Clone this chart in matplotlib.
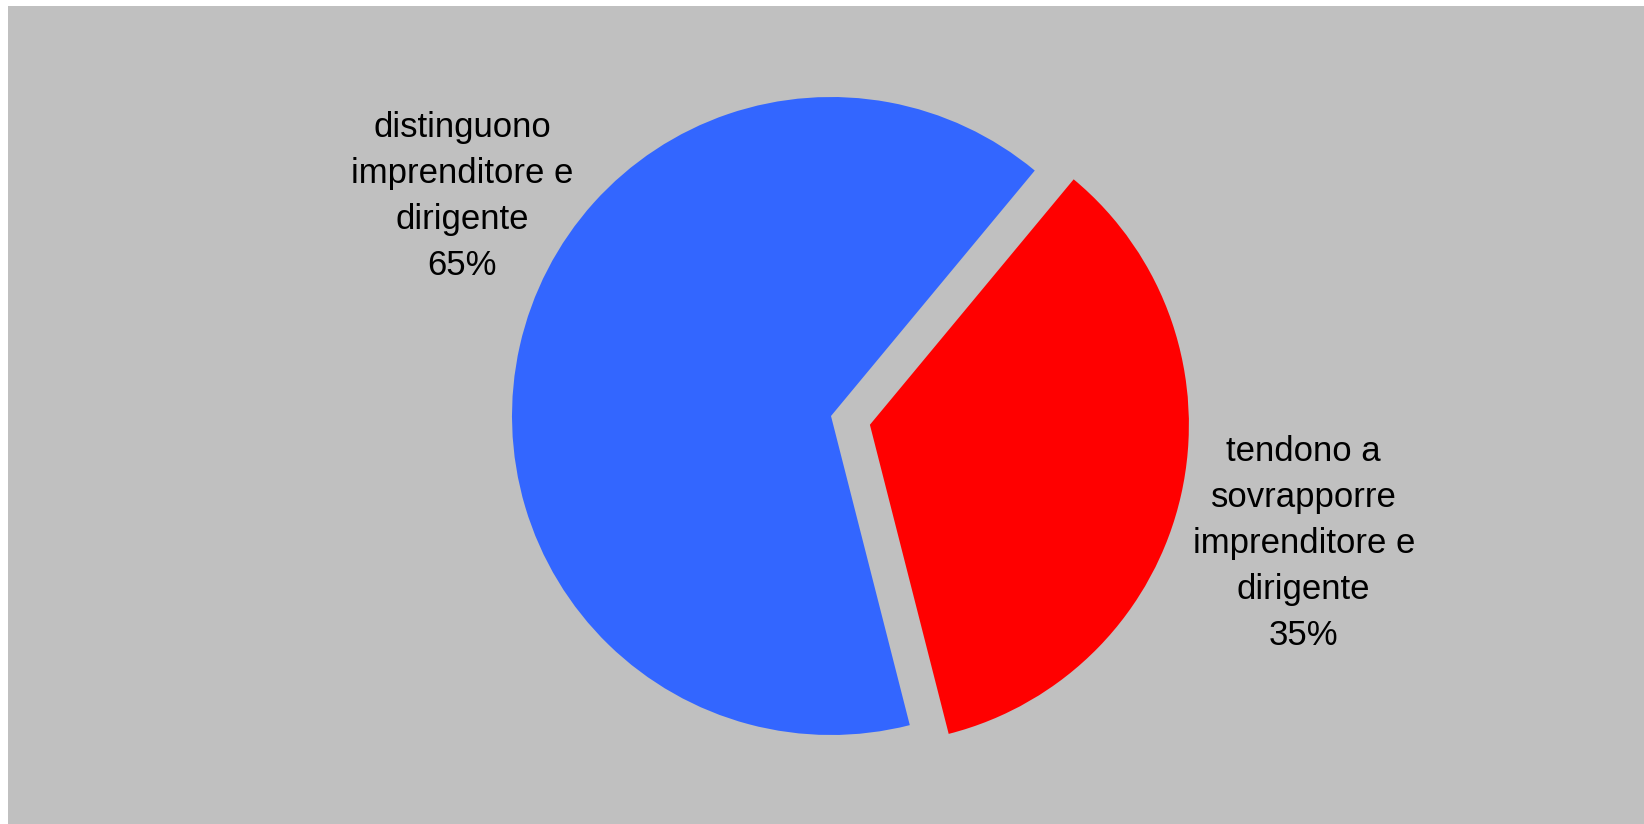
import numpy as np
import matplotlib.pyplot as plt
from matplotlib.patches import Rectangle

plt.rcParams['font.family'] = ['Liberation Sans', 'DejaVu Sans']

labels = ['distinguono\nimprenditore e\ndirigente', 'tendono a\nsovrapporre\nimprenditore e\ndirigente']
values = [65, 35]
colors = ['#3366FF', '#FF0000']
explode = [0, 0.125]

# label placement: angle (deg) and distance from wedge centre, in radii
label_angle = [149.3, -15.3]
label_dist = [1.345, 1.41]

W, H = 1644, 824
R = 319  # pie radius in pixels
cx, cy = 831, 408  # pie centre, pixels from bottom-left

fig = plt.figure(figsize=(W / 100, H / 100), dpi=100)
fig.patch.set_facecolor('white')
fig.patches.append(Rectangle((8 / W, 0), 1 - 8 / W, (H - 6) / H,
                             transform=fig.transFigure, facecolor='#C0C0C0',
                             edgecolor='none', linewidth=0, zorder=-10))

ax = fig.add_axes([0, 0, 1, 1], zorder=5)
ax.set_facecolor('none')
wedges, _ = ax.pie(values, colors=colors, explode=explode, startangle=50.3,
                   counterclock=True, wedgeprops=dict(linewidth=0))
ax.set_xlim(-cx / R, (W - cx) / R)
ax.set_ylim(-cy / R, (H - cy) / R)
ax.set_aspect('equal')
ax.axis('off')

for w, lab, v, ang, d in zip(wedges, labels, values, label_angle, label_dist):
    ox, oy = w.center
    a = np.deg2rad(ang)
    ax.text(ox + d * np.cos(a), oy + d * np.sin(a), f'{lab}\n{v}%',
            ha='center', va='center', fontsize=25, linespacing=1.5,
            color='black')

fig.savefig('out.png', dpi=100, facecolor=fig.get_facecolor())
